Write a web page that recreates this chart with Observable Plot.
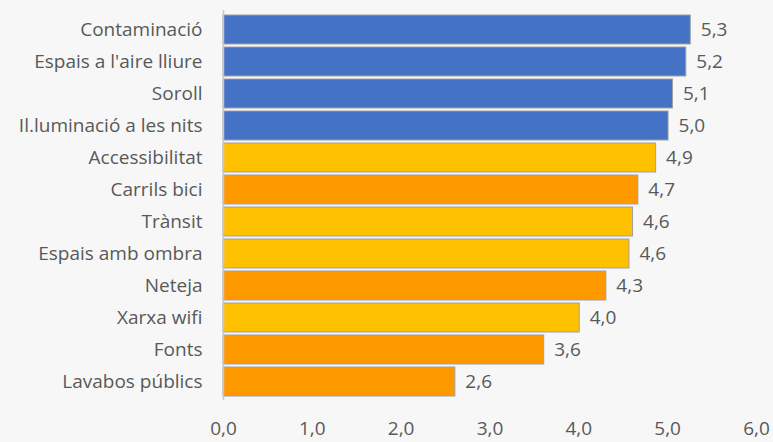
<!DOCTYPE html>
<html>
<head>
<meta charset="utf-8">
<script src="https://cdn.jsdelivr.net/npm/d3@7"></script>
<script src="https://cdn.jsdelivr.net/npm/@observablehq/plot@0.6"></script>
<style>
  html, body { margin: 0; padding: 0; background: #f7f7f7; }
  #chart { width: 773px; height: 442px; }
</style>
</head>
<body>
<div id="chart"></div>
<script>
const categories = ["Contaminació", "Espais a l'aire lliure", "Soroll", "Il.luminació a les nits", "Accessibilitat", "Carrils bici", "Trànsit", "Espais amb ombra", "Neteja", "Xarxa wifi", "Fonts", "Lavabos públics"];
const values = [5.26, 5.21, 5.06, 5.01, 4.87, 4.67, 4.61, 4.57, 4.31, 4.01, 3.61, 2.61];
const groups = ["blau", "blau", "blau", "blau", "groc", "taronja", "groc", "groc", "taronja", "groc", "taronja", "taronja"];
const groupNames = ["blau", "groc", "taronja"];
const groupColors = ["#4472c4", "#ffc000", "#ff9900"];
const xTicks = [0, 1, 2, 3, 4, 5, 6];

const data = categories.map((c, i) => ({ cat: c, value: values[i], group: groups[i] }));
const fmt = v => v.toFixed(1).replace(".", ",");
const font = "'Open Sans', sans-serif";
const fs = 19;

const chart = Plot.plot({
  width: 773,
  height: 442,
  marginLeft: 223,
  marginRight: 17,
  marginTop: 10,
  marginBottom: 42,
  style: { background: "#f7f7f7", fontFamily: font, fontSize: fs + "px", color: "#595959" },
  x: { domain: [0, 6], ticks: xTicks, tickFormat: fmt, label: null },
  y: { domain: categories, padding: 0.1, label: null },
  color: { domain: groupNames, range: groupColors },
  marks: [
    Plot.barX(data, { x: "value", y: "cat", fill: "group", stroke: "#a0a0a0", strokeWidth: 1 }),
    Plot.ruleX([0], { stroke: "#c8c8c8", strokeWidth: 1.5 }),
    Plot.text(data, { x: "value", y: "cat", text: d => fmt(d.value), dx: 10, textAnchor: "start", fill: "#595959", fontSize: fs }),
    Plot.axisX({ ticks: xTicks, tickFormat: fmt, tickSize: 0, tickPadding: 21, label: null, fontSize: fs }),
    Plot.axisY({ tickSize: 0, tickPadding: 21, label: null, fontSize: fs })
  ]
});
document.getElementById("chart").appendChild(chart);
</script>
</body>
</html>
